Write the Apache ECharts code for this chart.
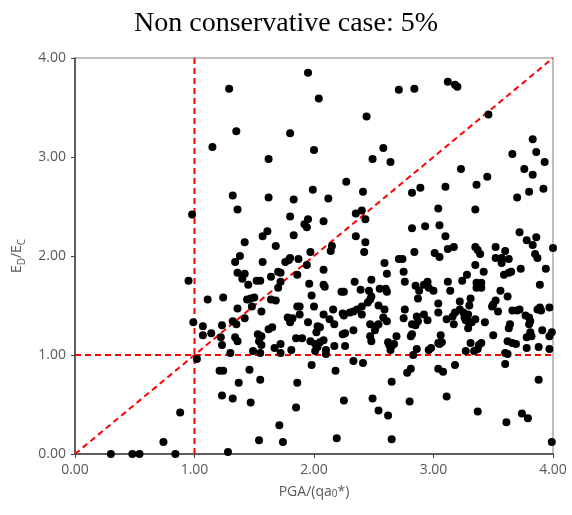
<!DOCTYPE html>
<html>
<head>
<meta charset="utf-8">
<script src="https://cdn.jsdelivr.net/npm/echarts@6/dist/echarts.min.js"></script>
<style>html,body{margin:0;padding:0;background:#fff}#c{width:572px;height:515px}</style>
</head>
<body>
<div id="c"></div>
<script>
// ---- data ----
const titleText = 'Non conservative case: 5%';
const tickValues = [0, 1, 2, 3, 4];
const tickLabels = ['0.00', '1.00', '2.00', '3.00', '4.00'];

// PGA/(qa0*) values of each scatter point
const pga = [
 1.29,1.35,1.80,1.15,1.62,1.32,1.62,1.83,1.36,0.98,1.80,1.61,1.57,1.83,1.42,1.68,1.38,1.34,1.57,1.76,1.79,1.87,
 1.95,2.04,2.71,2.84,2.44,2.00,2.58,2.49,2.64,2.27,1.99,2.41,2.12,2.82,2.89,1.95,1.92,1.94,2.08,2.35,2.40,2.43,2.35,2.43,2.82,2.15,2.14,1.97,2.42,2.84,1.94,2.59,2.71,2.74,
 3.12,3.18,3.20,3.46,3.83,3.66,3.86,3.93,3.23,3.76,3.83,3.45,3.36,3.10,3.80,3.92,3.70,3.04,3.35,2.93,3.05,3.10,3.72,3.78,3.86,3.83,4.00,3.01,3.05,3.12,3.17,3.35,3.37,3.39,3.52,3.60,3.52,3.57,3.63,3.57,3.85,3.87,3.35,
 0.95,0.99,1.02,0.88,0.74,0.30,0.48,0.54,0.84,
 1.80,1.36,1.42,1.40,1.45,1.52,1.55,1.64,1.70,1.72,1.72,1.70,1.86,1.96,1.11,1.24,1.44,1.47,1.50,1.48,1.36,1.56,1.64,1.68,1.86,1.88,2.00,1.98,1.42,1.32,1.35,1.23,1.07,1.07,1.14,1.22,1.23,1.34,1.36,1.30,1.49,1.53,1.56,1.54,1.56,1.55,1.62,1.65,1.67,1.72,1.72,1.78,1.80,1.82,1.88,1.81,1.85,1.90,1.95,1.97,2.01,2.02,2.05,1.21,1.24,1.46,1.37,1.55,1.86,1.98,1.23,1.32,1.47,1.85,1.71,1.54,1.74,1.28,
 2.08,2.61,2.75,2.08,2.09,2.34,2.48,2.76,2.23,2.25,2.39,2.46,2.48,2.47,2.55,2.60,2.61,2.85,2.88,2.92,2.95,2.96,3.00,2.87,2.16,2.08,2.13,2.17,2.24,2.25,2.30,2.33,2.36,2.40,2.40,2.45,2.54,2.59,2.58,2.61,2.47,2.52,2.54,2.51,2.76,2.75,2.86,2.87,2.82,2.85,2.92,2.95,3.04,3.04,2.33,2.03,2.24,2.26,2.47,2.48,2.69,2.81,2.82,2.01,2.05,2.08,2.03,2.10,2.10,2.17,2.26,2.62,2.65,2.64,2.63,2.67,2.86,2.83,2.96,2.98,3.04,2.33,2.41,2.18,2.81,2.78,3.04,2.65,2.25,2.49,2.80,2.54,2.62,2.19,2.65,
 3.42,3.28,3.24,3.59,3.63,3.65,3.73,3.94,3.12,3.14,3.36,3.40,3.36,3.40,3.56,3.62,3.89,3.22,3.31,3.30,3.50,3.52,3.49,3.54,3.18,3.22,3.25,3.16,3.26,3.29,3.27,3.29,3.11,3.17,3.32,3.35,3.29,3.43,3.66,3.70,3.72,3.77,3.80,3.81,3.87,3.89,3.90,3.97,3.64,3.63,3.80,3.91,3.97,3.99,3.50,3.81,3.82,3.78,3.62,3.66,3.69,3.06,3.07,3.05,3.31,3.38,3.40,3.37,3.34,3.27,3.78,3.88,3.97,3.60,3.62,3.08,3.18,3.60,3.88,3.11,3.37,3.74,3.79,3.61,3.99
];
// ED/EC values of each scatter point (same order)
const edec = [
 3.69,3.26,3.24,3.10,2.98,2.61,2.59,2.57,2.47,2.42,2.40,2.25,2.20,2.21,2.14,2.10,2.00,1.94,1.94,1.94,1.96,1.97,
 3.85,3.59,3.68,3.69,3.41,3.07,3.09,2.98,2.95,2.75,2.67,2.65,2.58,2.64,2.69,2.37,2.32,2.29,2.35,2.43,2.46,2.37,2.20,2.14,2.28,2.10,2.05,2.04,2.04,2.04,1.91,1.93,1.97,1.97,
 3.76,3.73,3.71,3.43,3.18,3.03,3.05,2.95,2.88,2.88,2.82,2.80,2.72,2.70,2.65,2.68,2.59,2.48,2.47,2.30,2.31,2.20,2.24,2.16,2.19,2.11,2.08,2.03,1.99,2.07,2.09,2.09,2.06,2.02,2.09,2.05,1.98,1.98,1.97,1.93,2.02,1.98,1.91,
 1.75,1.33,0.96,0.42,0.12,0.00,0.00,0.00,0.00,
 1.98,1.83,1.82,1.77,1.71,1.75,1.75,1.79,1.84,1.83,1.74,1.68,1.81,1.72,1.56,1.58,1.56,1.57,1.58,1.49,1.47,1.44,1.56,1.55,1.49,1.49,1.49,1.60,1.37,1.34,1.31,1.30,1.29,1.20,1.22,1.18,1.10,1.18,1.14,1.02,1.04,1.21,1.19,1.14,1.10,1.02,1.26,1.28,1.07,1.02,1.11,1.38,1.33,1.37,1.41,1.05,1.17,1.17,1.33,1.14,1.04,1.23,1.28,0.84,0.84,0.85,0.72,0.75,0.72,0.90,0.59,0.56,0.52,0.47,0.29,0.14,0.12,0.02,
 1.86,1.82,1.84,1.71,1.69,1.74,1.76,1.74,1.64,1.64,1.66,1.65,1.59,1.56,1.67,1.67,1.64,1.70,1.65,1.71,1.74,1.68,1.65,1.57,1.46,1.41,1.36,1.31,1.42,1.40,1.43,1.44,1.46,1.49,1.41,1.53,1.50,1.46,1.38,1.34,1.31,1.29,1.31,1.25,1.46,1.37,1.39,1.34,1.31,1.30,1.41,1.35,1.52,1.43,1.25,1.29,1.21,1.22,1.19,1.14,1.19,1.19,1.21,1.11,1.13,1.15,1.08,1.05,1.01,1.09,1.09,1.13,1.09,1.05,1.10,1.11,1.06,1.00,1.05,1.07,1.12,0.94,0.92,0.84,0.86,0.82,0.86,0.73,0.54,0.56,0.53,0.44,0.39,0.16,0.15,
 1.84,1.81,1.75,1.81,1.83,1.84,1.87,1.87,1.74,1.65,1.73,1.73,1.68,1.68,1.65,1.59,1.71,1.54,1.57,1.50,1.51,1.55,1.49,1.44,1.43,1.46,1.43,1.39,1.38,1.41,1.35,1.34,1.36,1.31,1.33,1.36,1.27,1.33,1.45,1.45,1.46,1.40,1.38,1.34,1.46,1.48,1.45,1.48,1.31,1.27,1.31,1.25,1.19,1.23,1.20,1.23,1.19,1.18,1.14,1.12,1.11,1.20,1.13,1.11,1.12,1.10,1.12,1.06,1.04,1.04,1.07,1.08,1.06,1.02,1.01,0.83,0.90,0.91,0.75,0.58,0.43,0.41,0.36,0.32,0.12
];

// dashed reference lines: vertical x=1, horizontal y=1, diagonal y=x
const refVertical = [[1, 0], [1, 4]];
const refHorizontal = [[0, 1], [4, 1]];
const refDiagonal = [[0, 0], [4, 4]];

// ---- chart ----
const points = pga.map((x, i) => [x, edec[i]]);
const labelColor = '#595959';
const fontFam = '"Open Sans", sans-serif';
const chart = echarts.init(document.getElementById('c'), null, {renderer: 'canvas'});
const dashed = {color: '#ff0000', width: 2, type: [6, 4]};
function refSeries(data) {
  return {type: 'line', data: data, symbol: 'none', lineStyle: dashed, z: 2, silent: true, animation: false};
}
chart.setOption({
  animation: false,
  title: {
    text: titleText, left: 'center', top: 5,
    textStyle: {fontFamily: '"Liberation Serif", "Times New Roman", serif', fontSize: 28, fontWeight: 'normal', color: '#000'}
  },
  grid: {left: 75, right: 19, top: 58, bottom: 61, show: true, borderColor: '#7f7f7f', borderWidth: 1},
  xAxis: {
    type: 'value', min: 0, max: 4, interval: 1,
    name: 'PGA/(qa{s|0}*)', nameLocation: 'middle', nameGap: 31,
    nameTextStyle: {color: labelColor, fontFamily: fontFam, fontSize: 14,
      rich: {s: {fontSize: 10, color: labelColor, fontFamily: fontFam, verticalAlign: 'bottom', lineHeight: 10}}},
    axisLine: {lineStyle: {color: '#404040', width: 1.5}},
    axisTick: {show: true, inside: false, length: 4, lineStyle: {color: '#404040'}},
    splitLine: {show: false},
    axisLabel: {color: labelColor, fontFamily: fontFam, fontSize: 14, margin: 9,
      formatter: v => tickLabels[tickValues.indexOf(v)]}
  },
  yAxis: {
    type: 'value', min: 0, max: 4, interval: 1,
    name: '{m|E}{s|D}{m|/E}{s|C}', nameLocation: 'middle', nameGap: 48, nameRotate: 90,
    nameTextStyle: {color: labelColor, fontFamily: fontFam, fontSize: 14,
      rich: {
        m: {fontSize: 14, color: labelColor, fontFamily: fontFam, lineHeight: 20},
        s: {fontSize: 10, color: labelColor, fontFamily: fontFam, verticalAlign: 'bottom', lineHeight: 10}
      }},
    axisLine: {show: true, lineStyle: {color: '#404040', width: 1.5}},
    axisTick: {show: true, inside: false, length: 4, lineStyle: {color: '#404040'}},
    splitLine: {show: false},
    axisLabel: {color: labelColor, fontFamily: fontFam, fontSize: 14, margin: 9,
      formatter: v => tickLabels[tickValues.indexOf(v)]}
  },
  series: [
    refSeries(refVertical),
    refSeries(refHorizontal),
    refSeries(refDiagonal),
    {type: 'scatter', data: points, symbol: 'circle', symbolSize: 8,
     itemStyle: {color: '#000', opacity: 1}, z: 5, silent: true}
  ]
});
</script>
</body>
</html>
